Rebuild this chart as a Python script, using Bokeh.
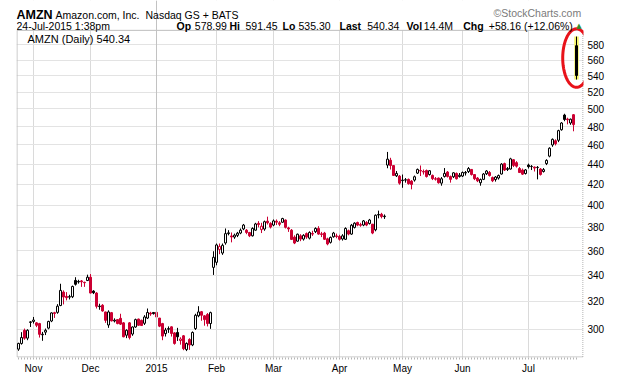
import numpy as np
import pandas as pd
from bokeh.plotting import figure
from bokeh.models import Range1d, FixedTicker, Label, PolyAnnotation, Span, BoxAnnotation, NumeralTickFormatter
from bokeh.embed import file_html
from bokeh.resources import INLINE

# ---------------- data ----------------
holidays = ["2014-11-27", "2014-12-25", "2015-01-01", "2015-01-19",
            "2015-02-16", "2015-04-03", "2015-05-25", "2015-07-03"]
dates = pd.bdate_range("2014-10-27", "2015-07-24", freq="C", holidays=holidays)

open_ = [286.5,290.3,299.3,293.9,304.8,305.5,304.5,304.0,296.2,298.0,
         300.8,305.8,311.8,312.0,317.0,327.0,323.8,323.2,323.5,336.0,
         334.8,335.6,334.5,335.9,338.5,327.8,326.3,316.2,317.2,312.3,
         303.0,311.8,305.8,306.8,307.7,304.5,295.9,304.5,296.7,301.6,
         307.2,306.3,304.2,307.9,311.5,311.9,312.0,307.9,304.0,297.0,
         300.0,301.7,297.5,297.8,292.3,295.5,286.2,293.0,289.3,300.5,
         309.5,312.5,309.5,310.5,304.0,346.3,350.4,361.0,358.0,366.5,
         374.5,372.5,371.5,373.0,375.0,378.6,377.5,375.5,372.6,377.5,
         383.5,378.0,378.5,385.5,383.5,382.0,385.5,384.0,384.5,386.5,
         379.5,377.5,371.5,368.0,372.6,369.8,374.5,370.6,374.6,376.2,
         379.0,374.3,375.0,370.0,367.0,371.8,372.5,372.1,369.9,369.6,
         377.0,374.1,379.9,384.3,382.4,382.0,384.3,383.4,382.8,377.8,
         391.0,391.7,389.5,439.0,444.0,438.5,428.2,427.9,423.5,424.0,
         424.7,423.0,424.0,430.9,433.5,432.5,433.5,429.5,428.6,425.3,
         426.0,421.0,427.6,432.0,427.5,427.3,430.6,427.5,428.0,431.0,
         432.5,434.6,429.5,426.0,421.4,424.7,430.3,431.5,426.5,424.5,
         426.0,430.0,440.5,434.5,435.0,444.5,441.5,435.5,434.0,430.5,
         439.0,437.5,437.0,436.5,435.0,432.5,440.5,448.2,460.0,464.5,
         465.0,476.5,493.0,488.5,484.0,493.4,578.99]

high = [290.8,298.0,300.5,300.0,305.8,308.7,305.0,304.5,298.2,300.5,
        306.0,312.0,312.4,318.0,333.4,328.3,327.0,325.0,332.0,338.5,
        336.5,336.3,335.0,340.5,341.0,328.5,327.0,318.3,318.0,312.5,
        313.5,312.3,307.7,307.0,311.0,305.0,300.0,305.0,302.0,307.5,
        307.5,306.8,310.0,314.8,312.4,312.3,314.2,308.0,304.5,301.0,
        302.0,302.0,298.0,301.0,294.5,296.0,291.0,293.8,298.5,311.0,
        316.5,313.0,310.0,311.5,312.5,359.5,366.0,366.0,366.0,379.0,
        377.5,375.5,374.5,376.0,379.0,383.0,378.5,376.0,380.0,384.0,
        385.5,384.0,386.0,389.5,384.5,387.0,387.0,385.5,388.5,387.0,
        380.5,378.5,373.0,374.5,374.0,374.0,375.5,376.5,377.0,380.0,
        381.0,376.0,376.0,371.0,372.0,376.0,374.5,373.5,374.0,380.0,
        378.0,383.0,384.5,385.0,384.0,386.5,385.5,387.5,383.0,391.5,
        395.0,393.0,391.5,452.6,446.5,439.0,433.0,429.0,429.5,426.0,
        425.5,424.0,428.5,435.5,438.6,434.5,434.5,434.0,429.5,427.0,
        426.5,427.0,436.0,433.0,428.5,432.0,431.5,431.0,432.5,433.0,
        437.0,435.0,430.0,427.0,425.5,431.0,434.0,433.0,427.5,428.0,
        429.5,441.0,441.5,437.0,446.5,445.0,443.0,437.0,435.5,435.0,
        440.5,439.0,437.5,438.0,436.0,436.0,445.0,457.5,467.0,466.0,
        476.5,485.0,494.5,490.0,489.0,494.0,591.45]

low = [285.4,289.5,292.8,292.5,301.6,304.0,301.5,294.3,292.1,296.0,
       300.0,305.0,308.0,311.0,316.5,317.8,320.8,321.5,322.5,332.0,
       333.5,331.0,331.0,335.5,326.0,325.5,314.8,313.9,312.5,304.5,
       301.0,305.5,304.8,303.5,303.0,294.5,293.9,293.0,295.5,301.0,
       302.5,302.3,303.0,307.2,309.5,310.4,308.0,301.5,292.5,295.0,
       297.5,295.0,289.5,292.0,289.5,285.8,285.2,286.0,288.5,299.5,
       308.5,306.0,302.5,302.0,300.3,340.3,348.0,357.0,356.5,365.0,
       373.0,367.0,370.0,371.5,374.0,377.5,374.0,371.5,372.0,377.0,
       380.0,375.0,377.0,382.5,379.0,381.0,382.0,381.0,384.0,379.0,
       376.0,369.0,365.5,367.5,368.0,368.5,370.0,369.5,372.5,375.0,
       373.5,371.5,369.0,364.5,366.0,371.0,370.5,368.5,368.5,369.0,
       373.0,373.5,379.0,381.0,380.5,381.0,381.0,382.5,374.0,376.5,
       388.0,388.0,387.5,435.8,434.5,428.0,427.0,419.5,416.5,421.5,
       419.5,415.0,422.5,430.0,428.0,429.5,426.5,428.5,424.0,423.5,
       420.5,418.5,426.5,426.5,421.5,426.0,424.5,426.5,427.0,428.5,
       431.0,428.5,424.0,422.0,418.5,424.0,429.0,427.5,422.0,422.5,
       424.5,429.5,433.0,433.0,434.5,437.0,436.5,431.0,429.0,429.5,
       435.5,434.0,432.5,424.7,428.5,431.5,439.0,447.0,458.0,459.5,
       463.0,475.5,486.0,482.5,482.0,474.8,535.30]

close = [290.3,294.3,293.9,299.3,305.2,306.5,302.8,296.5,296.6,299.3,
         305.5,311.6,311.2,316.5,328.3,323.3,322.8,323.6,331.3,333.0,
         335.2,334.9,334.2,338.5,326.3,326.5,316.4,316.6,313.0,306.3,
         312.3,305.9,306.4,304.0,303.6,294.8,299.3,294.3,301.6,306.8,
         302.8,302.6,308.7,311.9,310.8,311.1,308.7,302.2,295.3,299.5,
         300.5,297.1,290.3,294.8,293.3,286.8,290.3,289.3,297.8,309.9,
         312.3,309.9,306.8,304.0,311.8,354.5,364.8,363.5,364.5,374.5,
         375.2,371.6,373.2,374.9,377.5,382.0,375.5,372.6,379.0,383.0,
         382.5,381.0,385.0,384.0,380.2,385.7,384.6,382.7,387.8,380.0,
         378.6,369.5,366.4,374.0,369.8,373.0,371.5,375.5,374.1,379.0,
         374.1,373.8,369.6,365.6,371.2,375.0,372.1,369.6,372.6,379.0,
         374.1,381.9,383.7,382.0,381.8,385.7,382.0,386.5,375.0,390.8,
         391.5,389.6,390.0,445.1,438.6,428.6,430.6,421.0,424.0,424.3,
         420.5,419.8,427.3,434.6,433.0,432.0,427.5,433.3,425.4,424.9,
         421.4,425.3,430.6,427.6,424.7,431.2,425.3,428.8,431.5,431.6,
         435.5,429.5,425.3,423.3,424.5,430.0,433.0,428.5,423.3,427.0,
         428.5,440.0,434.0,435.5,445.4,438.7,437.9,431.5,429.9,434.1,
         437.4,437.7,436.0,436.7,429.6,434.4,443.8,456.5,466.0,461.3,
         475.5,484.0,488.0,487.7,488.3,482.2,540.34]

y_ticks = [300, 320, 340, 360, 380, 400, 420, 440, 460, 480, 500, 520, 540, 560, 580]

# ---------------- derived ----------------
n = len(close)
idx = list(range(n))
RED = "#cc0033"
BLK = "#000000"
colors, fills, tops, bots = [], [], [], []
for i in range(n):
    prev = close[i - 1] if i > 0 else close[i]
    c = BLK if close[i] >= prev else RED
    colors.append(c)
    fills.append("white" if close[i] > open_[i] else c)
    tops.append(max(open_[i], close[i]))
    bots.append(min(open_[i], close[i]))

month_idx, month_lab = [], {}
for i in range(1, n):
    if dates[i].month != dates[i - 1].month:
        month_idx.append(i)
        month_lab[i] = str(dates[i].year) if dates[i].month == 1 else dates[i].strftime("%b")
year_idx = [i for i in month_idx if dates[i].month == 1][0]

FONT = "Liberation Sans"
XS, XE = -0.67, 188.33          # index range shown
YS, YTOP, YE = 281.0, 600.0, 643.0   # price at bottom, at chart top, at canvas top
FRAME_W, FRAME_H = 567, 359

p = figure(width=620, height=376, x_range=Range1d(XS, XE), y_range=Range1d(YS, YE),
           y_axis_type="log", y_axis_location="right", output_backend="svg",
           toolbar_location=None, min_border_left=16, min_border_right=37,
           min_border_top=0, min_border_bottom=17)
p.outline_line_color = None
p.background_fill_color = "white"

ya = p.yaxis[0]
ya.ticker = FixedTicker(ticks=y_ticks, minor_ticks=[])
ya.formatter = NumeralTickFormatter(format="0")
ya.major_label_text_font = FONT
ya.major_label_text_font_size = "10px"
ya.major_label_text_color = "black"
ya.major_tick_out = 0
ya.major_tick_in = 0
ya.minor_tick_out = 0
ya.minor_tick_in = 0
ya.major_label_standoff = 4
ya.axis_line_color = None

xa = p.xaxis[0]
xa.ticker = FixedTicker(ticks=month_idx, minor_ticks=idx)
xa.major_label_overrides = month_lab
xa.major_label_text_font = FONT
xa.major_label_text_font_size = "10px"
xa.major_label_text_color = "black"
xa.major_tick_out = 0
xa.major_tick_in = 0
xa.minor_tick_out = 2
xa.minor_tick_in = 0
xa.minor_tick_line_color = "#b5b5b5"
xa.major_label_standoff = 3
xa.axis_line_color = None

p.xgrid.grid_line_color = "#dadada"
p.ygrid.grid_line_color = "#e3e3e3"
p.add_layout(Span(location=year_idx, dimension="height", line_color="#c2c2c2", line_width=1))
# header area above the chart: blank out the grid there
p.add_layout(BoxAnnotation(bottom=YTOP, fill_color="white", fill_alpha=1.0,
                           line_color=None, level="underlay"))

# chart border (left, top, bottom solid; right dotted)
px_x = FRAME_W / (XE - XS)
px_ln = FRAME_H / np.log(YE / YS)
bx0 = XS + 0.5 / px_x
bx1 = XE - 0.5 / px_x
by0 = YS * np.exp(0.5 / px_ln)
p.segment(x0=[bx0, bx0, bx0], y0=[by0, YTOP, by0], x1=[bx0, bx1, bx1], y1=[YTOP, YTOP, by0],
          line_color="#bdbdbd", line_width=1)
p.segment(x0=[bx1], y0=[by0], x1=[bx1], y1=[YTOP], line_color="#9a9a9a", line_width=1,
          line_dash="1 1")

last = n - 1
p.quad(left=[last - 0.75], right=[last + 0.75], top=[high[last]], bottom=[low[last]],
       fill_color="#f4f46a", line_color=None)

p.segment(x0=idx, y0=low, x1=idx, y1=high, line_color=colors, line_width=1)
p.vbar(x=idx, width=0.66, top=tops, bottom=bots, fill_color=fills, line_color=colors, line_width=1)

t = np.linspace(0, 2 * np.pi, 80)
cy = np.sqrt(high[last] * low[last])
half_ln = (np.log(high[last]) - np.log(low[last])) / 2 * 1.36
ex = last + 4.6 * np.cos(t)
ey = cy * np.exp(half_ln * np.sin(t))
p.add_layout(PolyAnnotation(xs=list(ex), ys=list(ey), fill_color=None, fill_alpha=0,
                            line_color="#e8121a", line_alpha=1.0, line_width=3))


def lab(text, X, Yb, size="10.5px", bold=False, color="black", align="left", font=FONT):
    p.add_layout(Label(x=X - 16, y=FRAME_H - Yb, x_units="screen", y_units="screen", text=text,
                       text_font=font, text_font_size=size,
                       text_font_style="bold" if bold else "normal",
                       text_color=color, text_align=align, text_baseline="alphabetic"))


lab("AMZN", 16, 16, size="12.5px", bold=True)
lab("Amazon.com, Inc.", 55, 16)
lab("Nasdaq GS + BATS", 145, 16)
lab("24-Jul-2015 1:38pm", 16, 27)
lab("Op", 176, 27, bold=True)
lab("578.99", 194.3, 27)
lab("Hi", 229, 27, bold=True)
lab("591.45", 245, 27)
lab("Lo", 282, 27, bold=True)
lab("535.30", 298, 27)
lab("Last", 339, 27, bold=True)
lab("540.34", 366.7, 27)
lab("Vol", 406, 27, bold=True)
lab("14.4M", 423.3, 27)
lab("Chg", 462.7, 27, bold=True)
lab("+58.16 (+12.06%)", 488.3, 27)
lab("\u25b2", 578.5, 27, size="7px", color="#2f8f2f", align="center", font="DejaVu Sans")
lab("\u00a9StockCharts.com", 493, 14, size="10.5px", color="#7a7a7a")
lab("AMZN (Daily) 540.34", 27, 40, size="11px")

open("out.html", "w").write(file_html(p, INLINE))
